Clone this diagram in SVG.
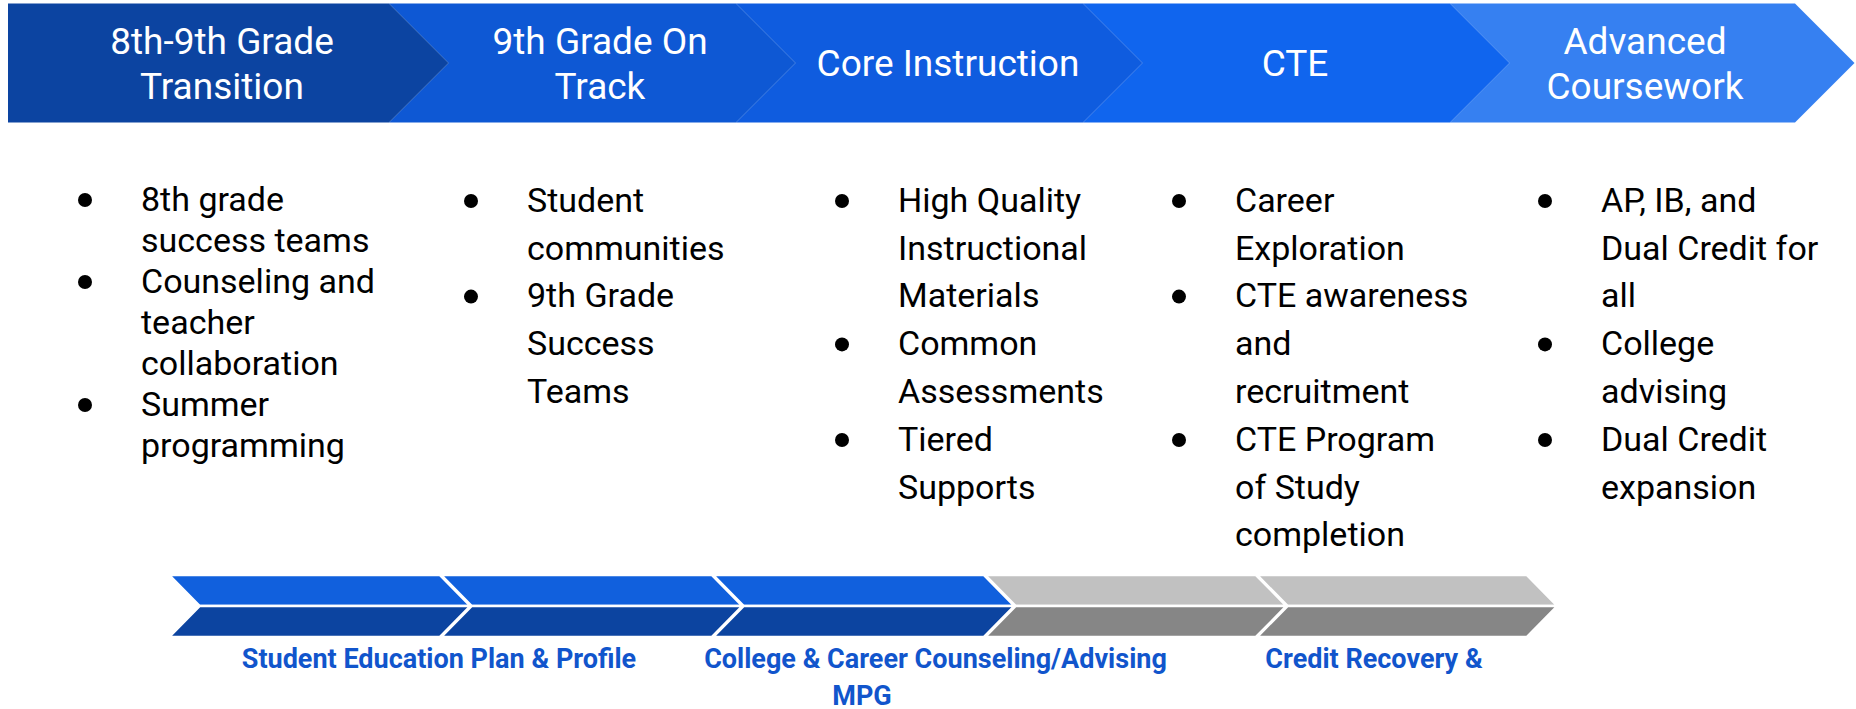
<svg xmlns="http://www.w3.org/2000/svg" width="1856" height="709" viewBox="0 0 1856 709">
<style>
.hd{font-family:Roboto,"Liberation Sans",sans-serif;font-size:37px;fill:#ffffff;text-anchor:middle}
.bl{font-family:Roboto,"Liberation Sans",sans-serif;font-size:34px;fill:#000000}
.dot{fill:#000000}
.lb{font-family:Roboto,"Liberation Sans",sans-serif;font-size:27px;font-weight:bold;fill:#1155cc;text-anchor:middle}
.seg{stroke:#ffffff;stroke-width:2.6;stroke-linejoin:miter}
.bu{fill:#1160dd}
.bd{fill:#0c44a0}
.gu{fill:#c1c1c1}
.gd{fill:#868686}
</style>
<rect x="0" y="0" width="1856" height="709" fill="#ffffff"/>

<g id="stage-advanced">
<polygon points="1450,3.5 1795,3.5 1854.5,63 1795,122.5 1450,122.5 1509.5,63" fill="#3680f1"/>
<text class="hd" x="1645" y="54">Advanced</text>
<text class="hd" x="1645" y="99">Coursework</text>
</g>
<g id="stage-cte">
<polygon points="1083,3.5 1450,3.5 1509.5,63 1450,122.5 1083,122.5 1142.5,63" fill="#1065ee"/>
<text class="hd" x="1295" y="76">CTE</text>
</g>
<g id="stage-core">
<polygon points="736,3.5 1083,3.5 1142.5,63 1083,122.5 736,122.5 795.5,63" fill="#0f5cdf"/>
<text class="hd" x="948" y="76">Core Instruction</text>
</g>
<g id="stage-9th">
<polygon points="389,3.5 736,3.5 795.5,63 736,122.5 389,122.5 448.5,63" fill="#0e58d4"/>
<text class="hd" x="600" y="54">9th Grade On</text>
<text class="hd" x="600" y="99">Track</text>
</g>
<g id="stage-transition">
<polygon points="8,3.5 389,3.5 448.5,63 389,122.5 8,122.5" fill="#0c44a1"/>
<text class="hd" x="222" y="54">8th-9th Grade</text>
<text class="hd" x="222" y="99">Transition</text>
</g>

<g id="list-transition">
<circle class="dot" cx="85" cy="200" r="7"/>
<circle class="dot" cx="85" cy="282" r="7"/>
<circle class="dot" cx="85" cy="405" r="7"/>
<text class="bl" x="141" y="210.7">8th grade</text>
<text class="bl" x="141" y="251.7">success teams</text>
<text class="bl" x="141" y="292.7">Counseling and</text>
<text class="bl" x="141" y="333.7">teacher</text>
<text class="bl" x="141" y="374.7">collaboration</text>
<text class="bl" x="141" y="415.7">Summer</text>
<text class="bl" x="141" y="456.7">programming</text>
</g>

<g id="list-9th">
<circle class="dot" cx="471" cy="201" r="7"/>
<circle class="dot" cx="471" cy="296.6" r="7"/>
<text class="bl" x="527" y="211.8">Student</text>
<text class="bl" x="527" y="259.6">communities</text>
<text class="bl" x="527" y="307.4">9th Grade</text>
<text class="bl" x="527" y="355.2">Success</text>
<text class="bl" x="527" y="403">Teams</text>
</g>

<g id="list-core">
<circle class="dot" cx="842" cy="201" r="7"/>
<circle class="dot" cx="842" cy="344.4" r="7"/>
<circle class="dot" cx="842" cy="440" r="7"/>
<text class="bl" x="898" y="211.8">High Quality</text>
<text class="bl" x="898" y="259.6">Instructional</text>
<text class="bl" x="898" y="307.4">Materials</text>
<text class="bl" x="898" y="355.2">Common</text>
<text class="bl" x="898" y="403">Assessments</text>
<text class="bl" x="898" y="450.8">Tiered</text>
<text class="bl" x="898" y="498.6">Supports</text>
</g>

<g id="list-cte">
<circle class="dot" cx="1179" cy="201" r="7"/>
<circle class="dot" cx="1179" cy="296.6" r="7"/>
<circle class="dot" cx="1179" cy="440" r="7"/>
<text class="bl" x="1235" y="211.8">Career</text>
<text class="bl" x="1235" y="259.6">Exploration</text>
<text class="bl" x="1235" y="307.4">CTE awareness</text>
<text class="bl" x="1235" y="355.2">and</text>
<text class="bl" x="1235" y="403">recruitment</text>
<text class="bl" x="1235" y="450.8">CTE Program</text>
<text class="bl" x="1235" y="498.6">of Study</text>
<text class="bl" x="1235" y="546.4">completion</text>
</g>

<g id="list-advanced">
<circle class="dot" cx="1545" cy="201" r="7"/>
<circle class="dot" cx="1545" cy="344.4" r="7"/>
<circle class="dot" cx="1545" cy="440" r="7"/>
<text class="bl" x="1601" y="211.8">AP, IB, and</text>
<text class="bl" x="1601" y="259.6">Dual Credit for</text>
<text class="bl" x="1601" y="307.4">all</text>
<text class="bl" x="1601" y="355.2">College</text>
<text class="bl" x="1601" y="403">advising</text>
<text class="bl" x="1601" y="450.8">Dual Credit</text>
<text class="bl" x="1601" y="498.6">expansion</text>
</g>

<g id="connectors">
<g id="support-strip">
<polygon class="seg bu" points="169,575 440,575 470.5,606 199.5,606"/>
<polygon class="seg bd" points="199.5,606 470.5,606 440,637 169,637"/>
<polygon class="seg bu" points="441,575 712,575 742.5,606 471.5,606"/>
<polygon class="seg bd" points="471.5,606 742.5,606 712,637 441,637"/>
<polygon class="seg bu" points="713,575 984,575 1014.5,606 743.5,606"/>
<polygon class="seg bd" points="743.5,606 1014.5,606 984,637 713,637"/>
<polygon class="seg gu" points="985,575 1256,575 1286.5,606 1015.5,606"/>
<polygon class="seg gd" points="1015.5,606 1286.5,606 1256,637 985,637"/>
<polygon class="seg gu" points="1257,575 1527,575 1557.5,606 1287.5,606"/>
<polygon class="seg gd" points="1287.5,606 1557.5,606 1527,637 1257,637"/>
</g>
</g>

<g id="label-sep">
<text class="lb" x="439" y="668">Student Education Plan &amp; Profile</text>
</g>
<g id="label-counseling">
<text class="lb" x="935.5" y="668">College &amp; Career Counseling/Advising</text>
<text class="lb" x="862" y="705">MPG</text>
</g>
<g id="label-credit">
<text class="lb" x="1374" y="668">Credit Recovery &amp;</text>
</g>
</svg>
